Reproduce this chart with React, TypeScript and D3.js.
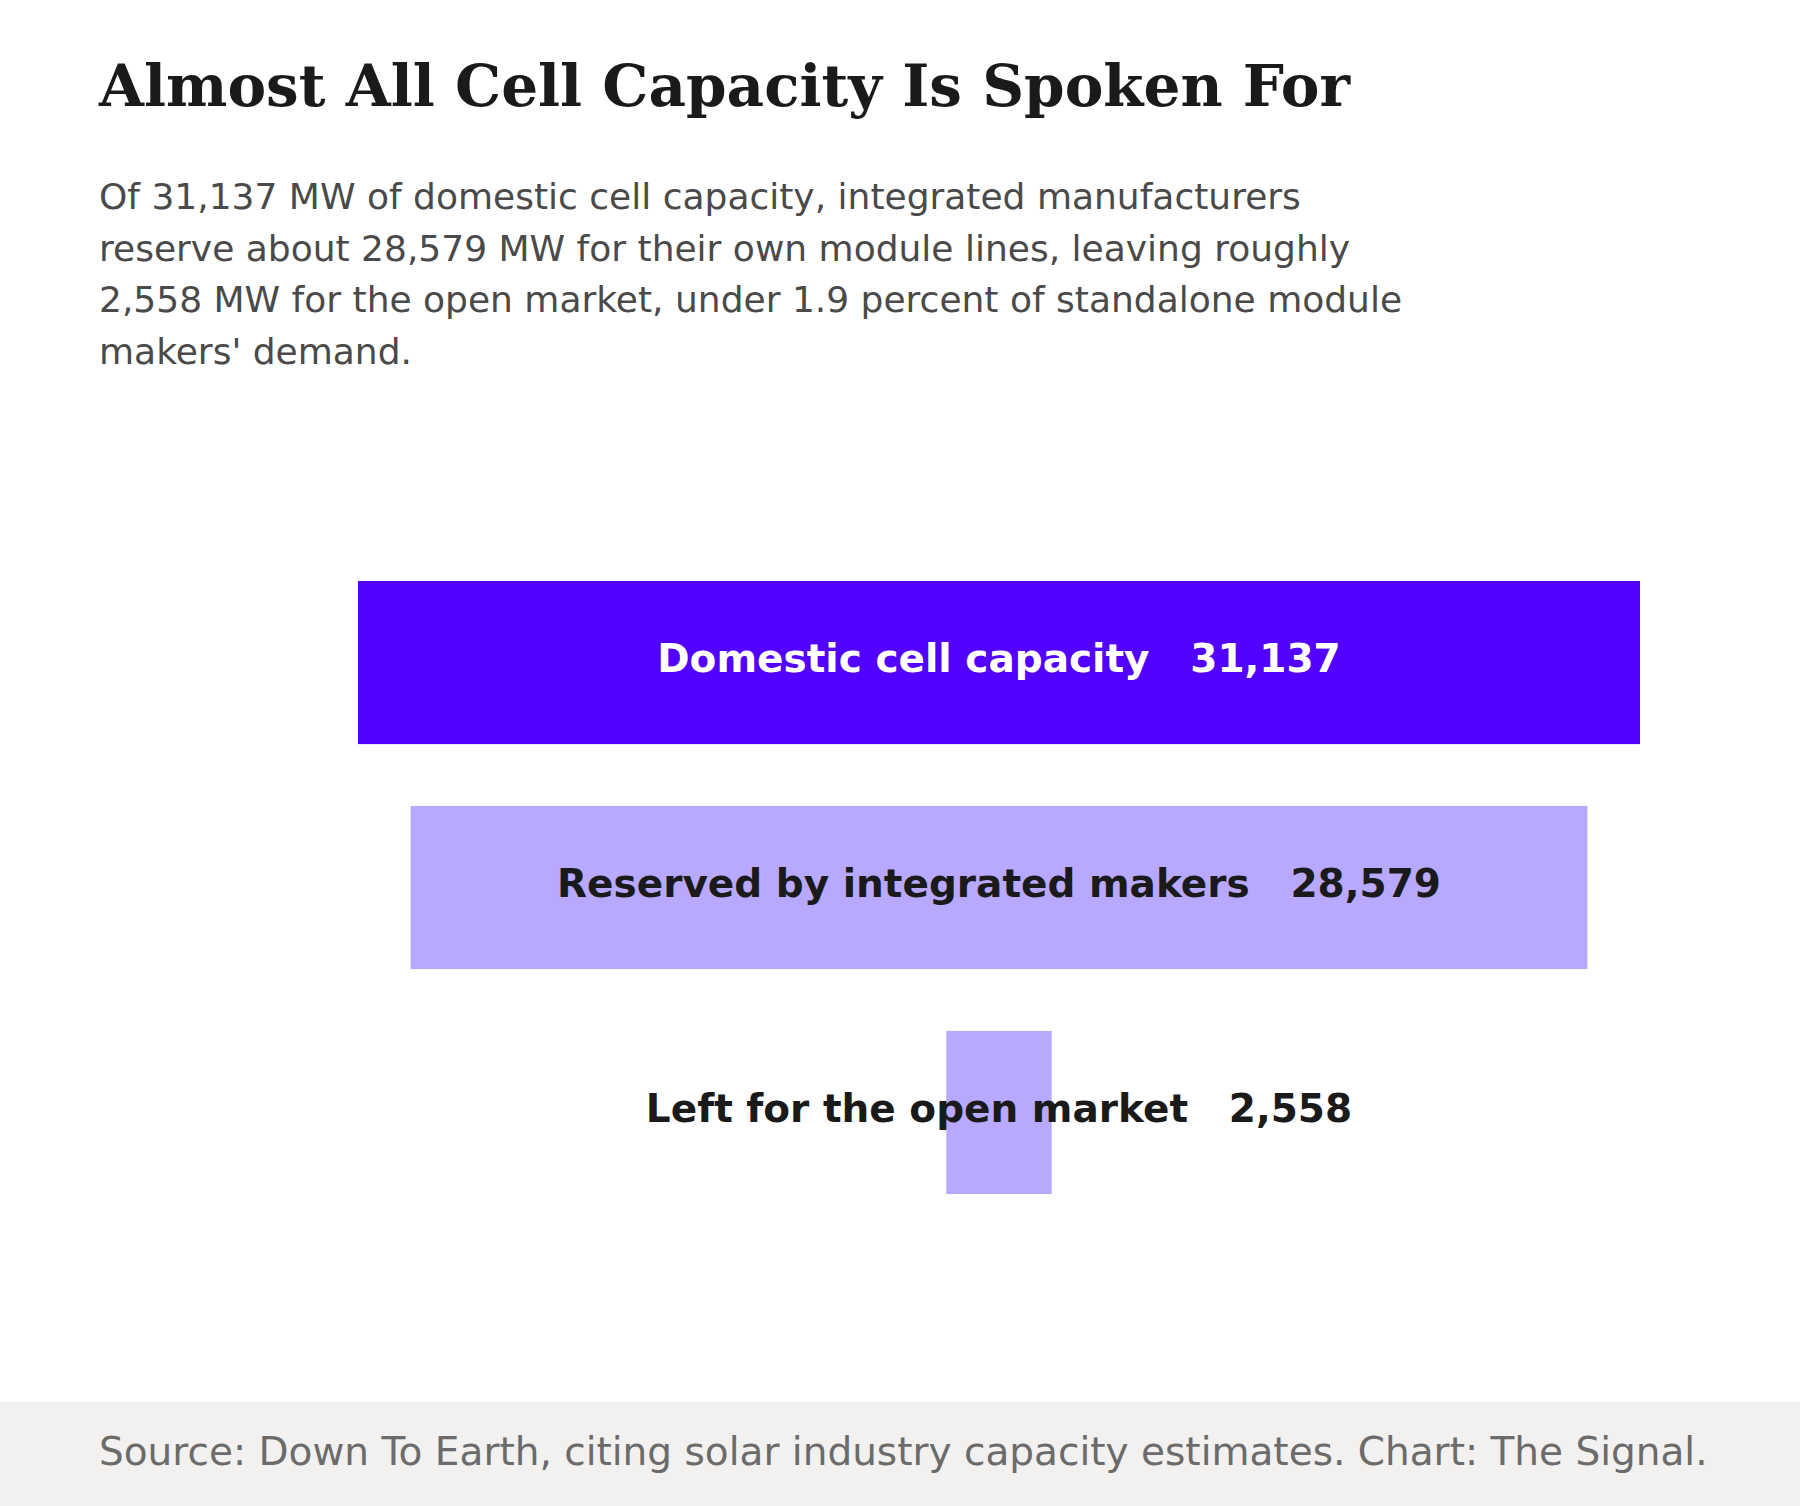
import React, { useRef, useEffect } from 'react'
import * as d3 from 'd3'

// funnel stages, MW
const stages = [
  'Domestic cell capacity',
  'Reserved by integrated makers',
  'Left for the open market',
]
const values = [31137, 28579, 2558]

const title = 'Almost All Cell Capacity Is Spoken For'
const subtitleLines = [
  'Of 31,137 MW of domestic cell capacity, integrated manufacturers',
  'reserve about 28,579 MW for their own module lines, leaving roughly',
  '2,558 MW for the open market, under 1.9 percent of standalone module',
  "makers' demand.",
]
const source =
  'Source: Down To Earth, citing solar industry capacity estimates. Chart: The Signal.'

const W = 1800
const H = 1506
const sans = "'DejaVu Sans', Verdana, sans-serif"
const serif = "'DejaVu Serif', Georgia, serif"

function App() {
  const svgRef = useRef(null)

  useEffect(() => {
    document.body.style.margin = '0'
    const svg = d3.select(svgRef.current)
    svg.selectAll('*').remove()

    svg.append('rect').attr('width', W).attr('height', H).attr('fill', '#fff')

    // Title
    svg
      .append('text')
      .attr('x', 99)
      .attr('y', 106)
      .attr('font-family', serif)
      .attr('font-weight', 'bold')
      .attr('font-size', 58)
      .attr('fill', '#1a1a1a')
      .text(title)

    // Subtitle
    svg
      .append('g')
      .selectAll('text')
      .data(subtitleLines)
      .join('text')
      .attr('x', 99)
      .attr('y', (d, i) => 209 + i * 51.5)
      .attr('font-family', sans)
      .attr('font-size', 36)
      .attr('fill', '#4a4a4a')
      .text((d) => d)

    // Funnel
    const cx = 999
    const x = d3.scaleLinear().domain([0, values[0]]).range([0, 1282])
    const y = d3
      .scaleBand()
      .domain(stages)
      .range([581, 581 + 3 * 225 - 62])
      .paddingInner(0.275)

    const colors = ['#5200ff', '#b8a8ff', '#b8a8ff']
    const textColors = ['#ffffff', '#1a1a1a', '#1a1a1a']

    const g = svg.append('g')
    g.selectAll('rect')
      .data(stages)
      .join('rect')
      .attr('x', (d, i) => cx - x(values[i]) / 2)
      .attr('y', (d) => y(d)!)
      .attr('width', (d, i) => x(values[i]))
      .attr('height', y.bandwidth())
      .attr('fill', (d, i) => colors[i])

    g.selectAll('text')
      .data(stages)
      .join('text')
      .attr('x', cx)
      .attr('y', (d) => y(d)! + y.bandwidth() / 2)
      .attr('dy', '0.24em')
      .attr('text-anchor', 'middle')
      .attr('font-family', sans)
      .attr('font-weight', 'bold')
      .attr('font-size', 39)
      .attr('fill', (d, i) => textColors[i])
      .attr('xml:space', 'preserve')
      .style('white-space', 'pre')
      .text((d, i) => `${d}   ${d3.format(',')(values[i])}`)

    // Footer
    svg
      .append('rect')
      .attr('x', 0)
      .attr('y', 1402)
      .attr('width', W)
      .attr('height', H - 1402)
      .attr('fill', '#f2f1ef')
    svg
      .append('text')
      .attr('x', 99)
      .attr('y', 1465)
      .attr('font-family', sans)
      .attr('font-size', 39)
      .attr('fill', '#6b6b6b')
      .text(source)
  }, [])

  return (
    <div style={{ width: W, height: H }}>
      <svg ref={svgRef} width={W} height={H} style={{ display: 'block' }} />
    </div>
  )
}

export default App
